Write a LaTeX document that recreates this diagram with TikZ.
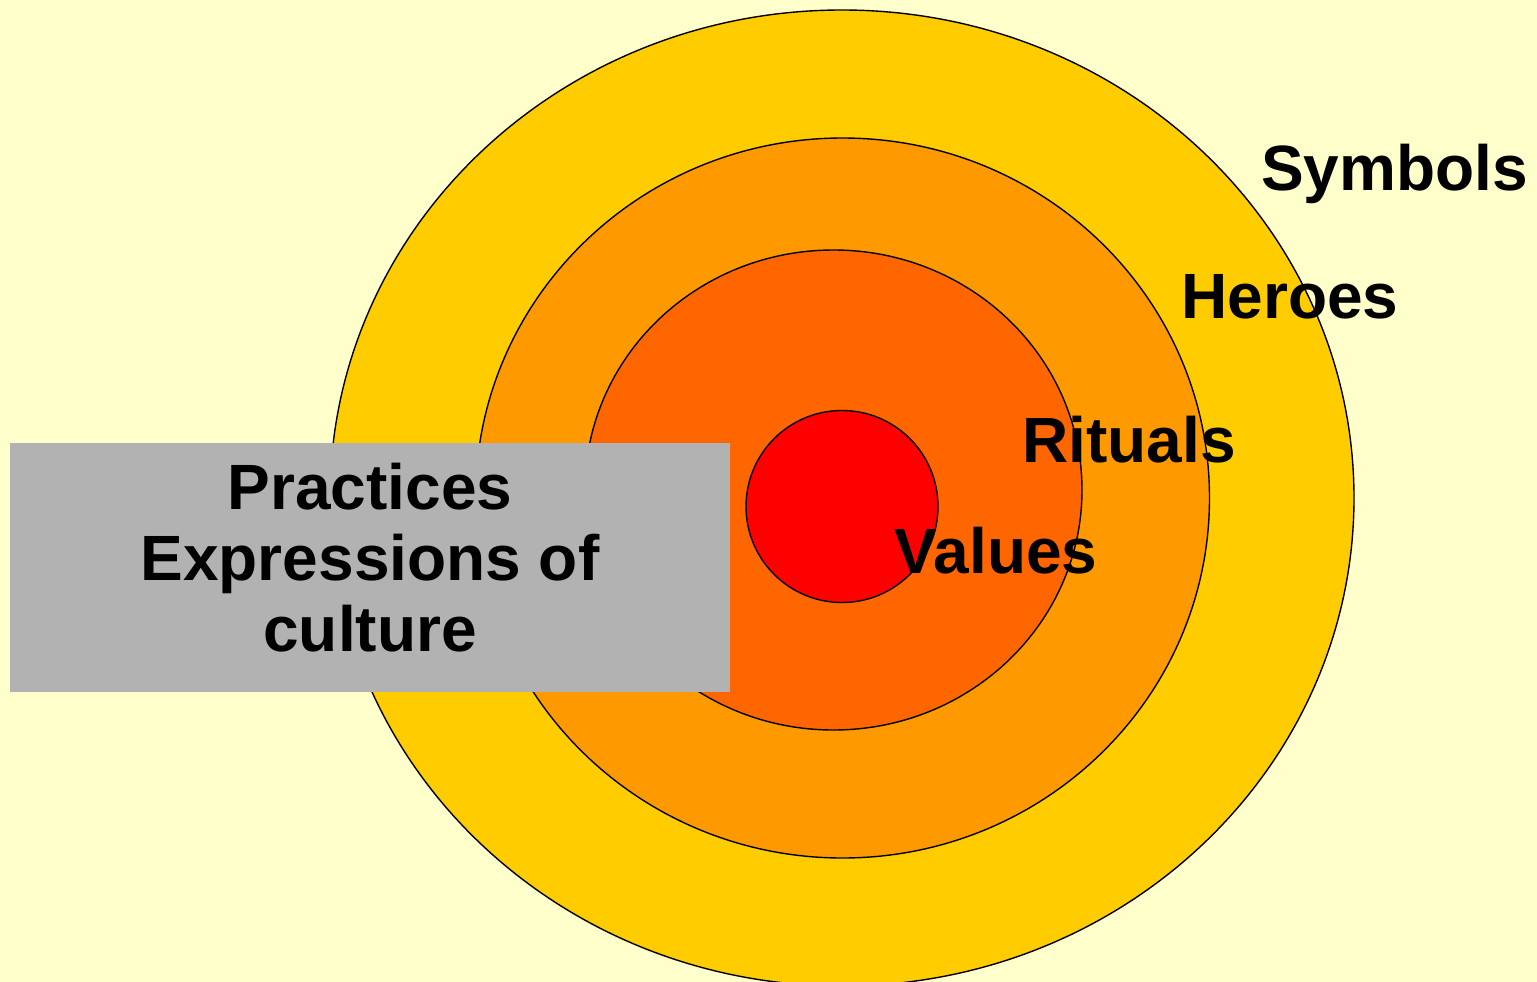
\documentclass[tikz,border=0pt]{standalone}
\usepackage{fontspec}
\setmainfont{Liberation Sans}
\usetikzlibrary{shapes.geometric}
\definecolor{paper}{HTML}{FFFFCC}
\definecolor{ringA}{HTML}{FFCC00}
\definecolor{ringB}{HTML}{FF9900}
\definecolor{ringC}{HTML}{FF6600}
\definecolor{coreC}{HTML}{FF0000}
\definecolor{panel}{HTML}{B2B2B2}
\begin{document}
\begin{tikzpicture}[x=1pt,y=-1pt,
  ring/.style={ellipse,draw=black,line width=1.4pt,inner sep=0pt,outer sep=0pt},
  lbl/.style={anchor=base,inner sep=0pt,font=\fontsize{64}{71}\selectfont\bfseries},
  panelbox/.style={rectangle,fill=panel,draw=none,inner sep=0pt,outer sep=0pt}]
  % page and background
  \fill[paper] (0,0) rectangle (1537,982);
  \useasboundingbox (0,0) rectangle (1537,982);
  % concentric layers of the onion
  \begin{scope}
    \clip (0,0) rectangle (1537,982);
    \node[ring,fill=ringA,minimum width=1024pt,minimum height=976pt] (symbolsring) at (842,498) {};
  \end{scope}
  \node[ring,fill=ringB,minimum width=734pt,minimum height=720pt] (heroesring) at (842.5,498) {};
  \node[ring,fill=ringC,minimum width=497pt,minimum height=480pt] (ritualsring) at (833.5,490) {};
  \node[ring,fill=coreC,minimum width=192pt,minimum height=192pt] (valuesring) at (842,506.5) {};
  % practices panel
  \node[panelbox,minimum width=720pt,minimum height=249pt] (box) at (370,567.5) {};
  \node[inner sep=0pt,align=center,font=\fontsize{64}{71}\selectfont\bfseries] (practices) at (370,557.5)
    {Practices\\Expressions of\\culture};
  % layer labels
  \node[lbl] (symbols) at (1394.5,190.5) {Symbols};
  \node[lbl] (heroes) at (1290,318) {Heroes};
  \node[lbl] (rituals) at (1129,462) {Rituals};
  \node[lbl] (values) at (996,573) {Values};
\end{tikzpicture}
\end{document}
